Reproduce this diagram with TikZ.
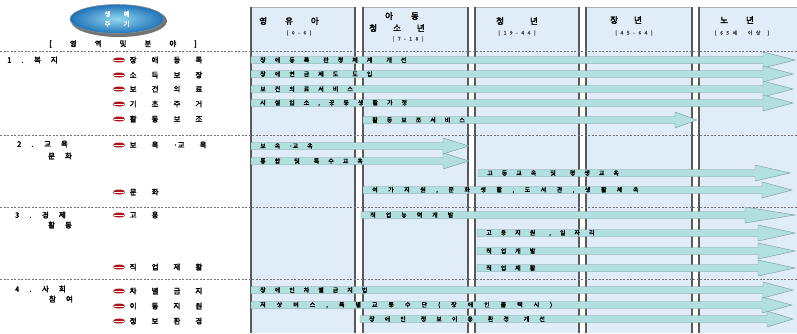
\documentclass[tikz,border=0pt]{standalone}
\usepackage{fontspec}
\setmainfont{Noto Sans CJK KR}[AutoFakeBold=2.5]
\usetikzlibrary{shapes.geometric}
\definecolor{panelblue}{RGB}{224,236,247}
\definecolor{barfill}{RGB}{178,224,224}
\definecolor{baredge}{RGB}{120,150,155}
\definecolor{lipred}{RGB}{175,20,25}
\definecolor{ovalin}{RGB}{150,215,240}
\definecolor{ovalout}{RGB}{30,115,185}
\newcommand\wgap{\hspace{5pt}}
\begin{document}
\begin{tikzpicture}[x=1pt,y=-1pt,
  panelside/.style={draw=black!65,line width=1.3pt},
  sepline/.style={draw=black!55,dash pattern=on 2pt off 1.5pt,line width=0.5pt},
  tlbar/.style={fill=barfill,draw=baredge,line width=0.4pt},
  bartext/.style={font=\fontsize{6}{7}\selectfont\bfseries,anchor=west,inner sep=0pt},
  item/.style={font=\fontsize{7.5}{8}\selectfont\bfseries,anchor=west,inner sep=0pt,execute at begin node={\spaceskip=15pt\relax}},
  sect/.style={font=\fontsize{7.5}{8}\selectfont\bfseries,inner sep=0pt,execute at begin node={\spaceskip=10pt\relax}},
  hdr/.style={font=\fontsize{8.5}{9}\selectfont\bfseries,inner sep=0pt,execute at begin node={\spaceskip=18pt\relax}},
  agebox/.style={font=\fontsize{5}{6}\selectfont\bfseries,text=black!70,inner sep=0pt,execute at begin node={\spaceskip=3.5pt\relax}},
  lip/.style={ellipse,fill=lipred,minimum width=12pt,minimum height=5pt,inner sep=0pt,
    path picture={\draw[white,line width=0.5pt] ([xshift=1pt]path picture bounding box.west) -- ([xshift=-1pt]path picture bounding box.east);}},
]
\useasboundingbox (0,0) rectangle (797,333);

% age columns
\foreach \xa/\xb in {251/355,363/468,475/579,586/692,699/800}{
  \fill[panelblue] (\xa,7) rectangle (\xb,333);
  \draw[black!30] (\xa,7) -- (\xb,7);
  \draw[panelside] (\xa,7) -- (\xa,333);
  \draw[panelside] (\xb,7) -- (\xb,333);
}

% separators
\foreach \yy in {51,135,207,279}
  \draw[sepline] (0,\yy) -- (797,\yy);

% headers
\node[hdr] (h1) at (289,21) {영 유 아};
\node[agebox] (a1) at (299,33) {[ 0 - 6 ]};
\node[hdr] (h2a) at (402,16) {아 동};
\node[hdr,execute at begin node={\spaceskip=16pt\relax}] (h2b) at (397,28) {청 소 년};
\node[agebox] (a2) at (408,39) {[ 7 - 1 8 ]};
\node[hdr,execute at begin node={\spaceskip=26pt\relax}] (h3) at (517,21) {청 년};
\node[agebox] (a3) at (517,33) {[ 1 9 - 4 4 ]};
\node[hdr,execute at begin node={\spaceskip=16pt\relax}] (h4) at (626,20) {장 년};
\node[agebox] (a4) at (634,33) {[ 4 5 - 6 4 ]};
\node[hdr] (h5) at (737,20) {노 년};
\node[agebox] (a5) at (742,33) {[ 6 5 세 \ \ 이 상 \ ]};

% life cycle oval
\fill[black!55] (119,21) ellipse (48 and 16);
\node[ellipse,minimum width=94pt,minimum height=29pt,inner color=ovalin,outer color=ovalout,draw=black!45,line width=0.6pt] (lifecycle) at (117,19) {};
\node[sect,text=white,font=\fontsize{6.5}{7}\selectfont\bfseries,execute at begin node={\spaceskip=13pt\relax}] (lc1) at (117,14) {생 애};
\node[sect,text=white,font=\fontsize{6.5}{7}\selectfont\bfseries,execute at begin node={\spaceskip=13pt\relax}] (lc2) at (117,24) {주 기};
\node[sect,execute at begin node={\spaceskip=18pt\relax}] (area) at (123,44) {[ 영 역 및 분 야 ]};

% fields
\node[sect,anchor=west] (s1) at (7,60) {1 . 복 지};
\node[sect,anchor=west] (s2) at (17,144) {2 . 교 육};
\node[sect] (s2b) at (60,156) {문 화};
\node[sect,anchor=west] (s3) at (15,215) {3 . 경 제};
\node[sect] (s3b) at (60,225) {활 동};
\node[sect,anchor=west] (s4) at (15,289) {4 . 사 회};
\node[sect] (s4b) at (61,299) {참 여};

\foreach \yy/\lbl [count=\i] in {60/{장 애 등 록},75/{소 득 보 장},89/{보 건 의 료},104/{기 초 주 거},
  119/{활 동 보 조},145/{보 육 ·교 육},192/{문 화},215/{고 용},267/{직 업 재 활},
  291/{차 별 금 지},306/{이 동 지 원},321/{정 보 환 경}}{
  \node[lip] (lip\i) at (119,\yy) {};
  \node[item] (it\i) at (129.5,\yy) {\lbl};
}

% services along the life course
\foreach \yy/\xs/\xe/\hl/\sk/\lbl [count=\i] in {
  60/251/795/32/9/{장 애 등 록 \wgap 판 정 체 계 \wgap 개 선},
  74/251/793/30/9/{장 애 연 금 제 도 \wgap 도 입},
  89/251/793/30/9/{보 건 의 료 서 비 스},
  103/251/793/30/9/{시 설 입 소 , 공 동 생 활 가 정},
  120/363/697/22/9/{활 동 보 조 서 비 스},
  146/251/469/26/9/{보 육 ·교 육},
  161/251/469/26/9/{통 합 \wgap 및 \wgap 특 수 교 육},
  173/478/790/35/9/{고 등 교 육 \wgap 및 \wgap 평 생 교 육},
  190/363/792/30/10.5/{여 가 지 원 , 문 화 생 활 , 도 서 관 , 생 활 체 육},
  215/361/795/50/10/{직 업 능 력 개 발},
  233/477/795/37/9/{고 용 지 원 \wgap , 일 자 리},
  251/477/795/37/9/{직 업 개 발},
  268/477/795/37/9/{직 업 재 활},
  290/251/793/30/9/{장 애 인 차 별 금 지 법},
  305/251/792/30/11/{저 상 버 스 , 특 별 교 통 수 단 ( 장 애 인 콜 택 시 )},
  319/360/793/26/10/{장 애 인 \wgap 정 보 이 용 \wgap 환 경 \wgap 개 선}}{
  \draw[tlbar] (\xs,\yy-3.5) -- (\xe-\hl,\yy-3.5) -- (\xe-\hl,\yy-8) -- (\xe,\yy)
    -- (\xe-\hl,\yy+8) -- (\xe-\hl,\yy+3.5) -- (\xs,\yy+3.5) -- cycle;
  \node[bartext,execute at begin node={\spaceskip=\sk pt\relax}] (bar\i) at (\xs+9,\yy) {\lbl};
}
\end{tikzpicture}
\end{document}
